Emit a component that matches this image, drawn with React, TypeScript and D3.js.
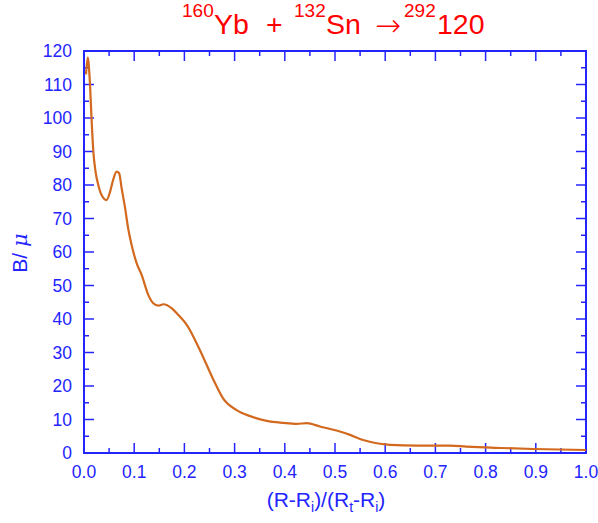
import * as d3 from "d3";
import { useEffect, useRef } from "react";

// values
const xVals = [
  0.004, 0.0075, 0.012, 0.015, 0.0186, 0.023, 0.0285, 0.035, 0.045, 0.052, 0.058,
  0.065, 0.07, 0.075, 0.082, 0.088, 0.095, 0.105, 0.115, 0.128, 0.138, 0.148,
  0.158, 0.175, 0.188, 0.205, 0.231, 0.258, 0.277, 0.304, 0.331, 0.364, 0.397,
  0.424, 0.444, 0.47, 0.503, 0.53, 0.556, 0.583, 0.61, 0.663, 0.729, 0.762,
  0.829, 0.895, 1.0,
];
const bVals = [
  113, 118, 109.9, 99.9, 90, 84, 80, 77, 75.5, 78, 81.5,
  84, 83.5, 79, 73, 67, 62, 56.6, 53.1, 47.2, 44.7, 44.0,
  44.4, 43.2, 41.2, 38.2, 30.7, 21.8, 16.3, 12.8, 11.0, 9.6, 9.0,
  8.7, 8.9, 7.9, 6.7, 5.4, 3.9, 2.9, 2.4, 2.2, 2.2, 1.9,
  1.5, 1.2, 0.9,
];
const xTicks = [0, 0.1, 0.2, 0.3, 0.4, 0.5, 0.6, 0.7, 0.8, 0.9, 1.0];
const yTicks = [0, 10, 20, 30, 40, 50, 60, 70, 80, 90, 100, 110, 120];

const WIDTH = 598;
const HEIGHT = 523;
const BLUE = "#2424ff";
const FONT = "'Liberation Sans', Arial, Helvetica, sans-serif";

const App = () => {
  const svgRef = useRef<SVGSVGElement>(null);

  useEffect(() => {
    const margin = { top: 51, right: 12, bottom: 70, left: 84 };
    const svg = d3.select(svgRef.current);
    svg.selectAll("*").remove();

    const x = d3.scaleLinear().domain([0, 1]).range([margin.left, WIDTH - margin.right]);
    const y = d3.scaleLinear().domain([0, 120]).range([HEIGHT - margin.bottom, margin.top]);

    const g = svg.append("g");

    // minor + major ticks on all four sides, pointing inward
    const xMinor = d3.range(0.05, 1, 0.1);
    const yMinor = d3.range(5, 120, 10);
    const [x0, x1] = x.range();
    const [y0, y1] = y.range();

    const tick = (ax: number, ay: number, bx: number, by: number) =>
      g.append("line")
        .attr("x1", ax).attr("y1", ay).attr("x2", bx).attr("y2", by)
        .attr("stroke", BLUE).attr("stroke-width", 1.5);

    xTicks.forEach((t) => {
      tick(x(t), y0, x(t), y0 - 10);
      tick(x(t), y1, x(t), y1 + 10);
    });
    xMinor.forEach((t) => {
      tick(x(t), y0, x(t), y0 - 5);
      tick(x(t), y1, x(t), y1 + 5);
    });
    yTicks.forEach((t) => {
      tick(x0, y(t), x0 + 10, y(t));
      tick(x1, y(t), x1 - 10, y(t));
    });
    yMinor.forEach((t) => {
      tick(x0, y(t), x0 + 5, y(t));
      tick(x1, y(t), x1 - 5, y(t));
    });

    // frame
    g.append("rect")
      .attr("x", x0).attr("y", y1)
      .attr("width", x1 - x0).attr("height", y0 - y1)
      .attr("fill", "none").attr("stroke", BLUE).attr("stroke-width", 2);

    // tick labels
    g.selectAll(".xl").data(xTicks).enter().append("text")
      .attr("x", (d) => x(d)).attr("y", y0 + 25)
      .attr("text-anchor", "middle")
      .attr("font-family", FONT).attr("font-size", 17.5).attr("fill", BLUE)
      .text((d) => d3.format(".1f")(d));
    g.selectAll(".yl").data(yTicks).enter().append("text")
      .attr("x", x0 - 12).attr("y", (d) => y(d) + 6)
      .attr("text-anchor", "end")
      .attr("font-family", FONT).attr("font-size", 17.5).attr("fill", BLUE)
      .text((d) => d);

    // the curve
    const data = xVals.map((v, i) => ({ x: v, b: bVals[i] }));
    g.append("path")
      .datum(data)
      .attr("fill", "none")
      .attr("stroke", "#d2691e")
      .attr("stroke-width", 2.2)
      .attr("stroke-linejoin", "round")
      .attr(
        "d",
        d3.line<{ x: number; b: number }>()
          .x((d) => x(d.x))
          .y((d) => y(d.b))
          .curve(d3.curveMonotoneX)
      );

    // x axis title
    const xt = g.append("text")
      .attr("x", 326).attr("y", 507)
      .attr("text-anchor", "middle")
      .attr("font-family", FONT).attr("font-size", 21).attr("fill", BLUE);
    xt.append("tspan").text("(R-R");
    xt.append("tspan").attr("font-size", 14).attr("dy", 5).text("i");
    xt.append("tspan").attr("dy", -5).text(")/(R");
    xt.append("tspan").attr("font-size", 14).attr("dy", 5).text("t");
    xt.append("tspan").attr("dy", -5).text("-R");
    xt.append("tspan").attr("font-size", 14).attr("dy", 5).text("i");
    xt.append("tspan").attr("dy", -5).text(")");

    // y axis title
    const yt = g.append("text")
      .attr("transform", "translate(27,253) rotate(-90)")
      .attr("text-anchor", "middle")
      .attr("font-family", FONT).attr("font-size", 21).attr("fill", BLUE);
    yt.append("tspan").text("B/ ");
    yt.append("tspan").attr("font-style", "italic").attr("font-family", "'DejaVu Serif', serif").text("μ");

    // title, pieces placed where the reference has them
    const title = g.append("text")
      .attr("y", 34)
      .attr("font-family", FONT).attr("font-size", 28.5).attr("fill", "#ff0000");
    title.append("tspan").attr("x", 182).attr("font-size", 19).attr("dy", -17).text("160");
    title.append("tspan").attr("x", 214).attr("dy", 17).text("Yb");
    title.append("tspan").attr("x", 266).text("+");
    title.append("tspan").attr("x", 294).attr("font-size", 19).attr("dy", -17).text("132");
    title.append("tspan").attr("x", 326).attr("dy", 17).text("Sn");
    title.append("tspan")
      .attr("x", 375).attr("dy", 2)
      .attr("font-family", "'DejaVu Sans', sans-serif")
      .attr("font-weight", 200).attr("font-size", 31)
      .text("→");
    title.append("tspan").attr("x", 404).attr("font-size", 19).attr("dy", -19).text("292");
    title.append("tspan").attr("x", 437).attr("dy", 17).text("120");
  }, []);

  return (
    <svg
      ref={svgRef}
      width={WIDTH}
      height={HEIGHT}
      style={{ position: "absolute", left: 0, top: 0, background: "#fff" }}
    />
  );
};

export default App;
